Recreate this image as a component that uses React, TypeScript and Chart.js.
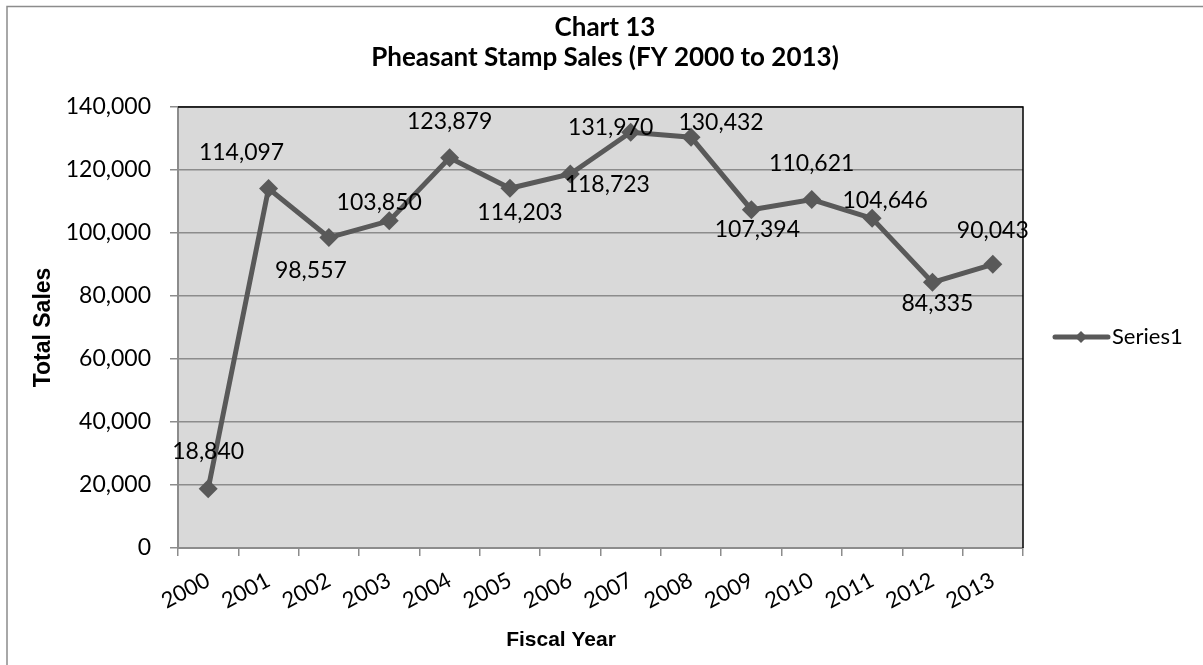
import React, { useEffect, useRef } from "react";
import { Chart, registerables } from "chart.js";

Chart.register(...registerables);

const categories = ["2000", "2001", "2002", "2003", "2004", "2005", "2006", "2007", "2008", "2009", "2010", "2011", "2012", "2013"];
const salesValues = [18840, 114097, 98557, 103850, 123879, 114203, 118723, 131970, 130432, 107394, 110621, 104646, 84335, 90043];
const yTicks = [0, 20000, 40000, 60000, 80000, 100000, 120000, 140000];
const titleLines = ["Chart 13", "Pheasant Stamp Sales (FY 2000 to 2013)"];
const seriesName = "Series1";
const xTitle = "Fiscal Year";
const yTitle = "Total Sales";

// label placement offsets (style only)
const labelOffsets: [number, number][] = [
  [0, -37], [-27, -36], [-18, 33], [-10, -18], [0, -36], [10, 24], [37, 11],
  [-20, -5], [30, -15], [6, 20], [0, -36], [13, -18], [5, 21], [0, -34],
];

const LINE = "#595959";
const fmt = (v: number) => v.toLocaleString("en-US");

const decor = {
  id: "decor",
  beforeDraw(chart: any) {
    const { ctx, chartArea: a, width, height } = chart;
    ctx.save();
    ctx.fillStyle = "#ffffff";
    ctx.fillRect(0, 0, width, height);
    ctx.strokeStyle = "#8c8c8c";
    ctx.lineWidth = 1.5;
    ctx.beginPath();
    ctx.moveTo(7, height + 5);
    ctx.lineTo(7, 6.5);
    ctx.lineTo(width + 5, 6.5);
    ctx.stroke();
    ctx.fillStyle = "#d9d9d9";
    ctx.fillRect(a.left, a.top, a.right - a.left, a.bottom - a.top);
    ctx.restore();
  },
  afterDraw(chart: any) {
    const { ctx, chartArea: a } = chart;
    ctx.save();
    // plot border top/right
    ctx.strokeStyle = "#000000";
    ctx.lineWidth = 1.5;
    ctx.beginPath();
    ctx.moveTo(a.left, a.top);
    ctx.lineTo(a.right, a.top);
    ctx.lineTo(a.right, a.bottom);
    ctx.stroke();

    // data labels
    const meta = chart.getDatasetMeta(0);
    ctx.fillStyle = "#000000";
    ctx.font = "23px Lato";
    ctx.textAlign = "center";
    ctx.textBaseline = "middle";
    meta.data.forEach((pt: any, i: number) => {
      const [dx, dy] = labelOffsets[i];
      ctx.fillText(fmt(salesValues[i]), pt.x + dx, pt.y + dy);
    });

    // titles
    ctx.font = "bold 26px Lato";
    ctx.fillText(titleLines[0], 605, 28);
    ctx.fillText(titleLines[1], 605, 58);

    // axis titles
    ctx.font = "bold 21px 'Liberation Sans'";
    ctx.fillText(xTitle, 561, 640);
    ctx.save();
    ctx.translate(44, (a.top + a.bottom) / 2);
    ctx.rotate(-Math.PI / 2);
    ctx.font = "bold 23px 'Liberation Sans'";
    ctx.fillText(yTitle, 0, 0);
    ctx.restore();

    // legend
    const ly = 337;
    ctx.strokeStyle = LINE;
    ctx.lineWidth = 5;
    ctx.lineCap = "round";
    ctx.beginPath();
    ctx.moveTo(1055, ly);
    ctx.lineTo(1108, ly);
    ctx.stroke();
    ctx.fillStyle = LINE;
    ctx.beginPath();
    ctx.moveTo(1081, ly - 6);
    ctx.lineTo(1087, ly);
    ctx.lineTo(1081, ly + 6);
    ctx.lineTo(1075, ly);
    ctx.closePath();
    ctx.fill();
    ctx.fillStyle = "#000000";
    ctx.font = "22px Lato";
    ctx.textAlign = "left";
    ctx.fillText(seriesName, 1112, ly);
    ctx.restore();
  },
};

export default function App() {
  const ref = useRef<HTMLCanvasElement | null>(null);
  useEffect(() => {
    document.body.style.margin = "0";
    if (!ref.current) return;
    const chart = new Chart(ref.current, {
      type: "line",
      data: {
        labels: categories,
        datasets: [
          {
            label: seriesName,
            data: salesValues,
            borderColor: LINE,
            backgroundColor: LINE,
            borderWidth: 5,
            pointStyle: "rectRot",
            pointRadius: 9.5,
            pointBorderWidth: 0,
            pointBackgroundColor: LINE,
            tension: 0,
          },
        ],
      },
      options: {
        responsive: false,
        animation: false,
        layout: { padding: { left: 0, top: 107, right: 180, bottom: 0 } },
        plugins: { legend: { display: false }, title: { display: false }, tooltip: { enabled: false } },
        scales: {
          x: {
            type: "category",
            offset: true,
            grid: { offset: true, color: "rgba(0,0,0,0)", tickColor: "#8c8c8c", tickLength: 8, lineWidth: 1.5 },
            border: { color: "#8c8c8c", width: 2 },
            ticks: {
              color: "#000000",
              font: { family: "Lato", size: 22 },
              minRotation: 28,
              maxRotation: 28,
              autoSkip: false,
              padding: 11,
            },
            afterFit: (s: any) => { s.height = 117; },
          },
          y: {
            min: 0,
            max: 140000,
            afterBuildTicks: (s: any) => { s.ticks = yTicks.map((v) => ({ value: v })); },
            grid: { color: "#8c8c8c", tickColor: "#8c8c8c", tickLength: 8, lineWidth: 1.5 },
            border: { color: "#8c8c8c", width: 2 },
            ticks: {
              color: "#000000",
              font: { family: "Lato", size: 23 },
              padding: 19,
              callback: (v: any) => fmt(Number(v)),
            },
            afterFit: (s: any) => { s.width = 178; },
          },
        },
      },
      plugins: [decor],
    });
    return () => chart.destroy();
  }, []);
  return (
    <div style={{ width: 1203, height: 665 }}>
      <canvas ref={ref} width={1203} height={665} style={{ display: "block" }} />
    </div>
  );
}
